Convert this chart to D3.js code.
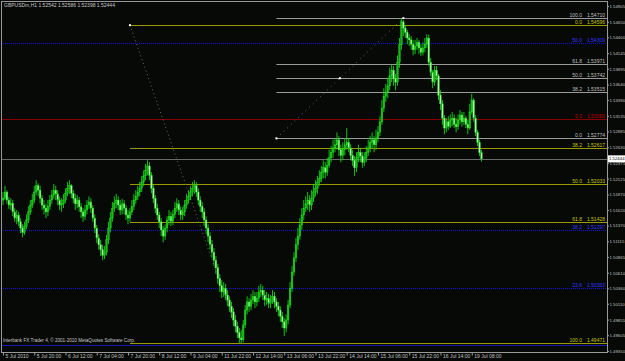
<!DOCTYPE html>
<html>
<head>
<meta charset="utf-8">
<script src="https://cdn.jsdelivr.net/npm/d3@7"></script>
<style>
  body { margin: 0; background: #000; }
  text { font-family: "Liberation Sans", Arial, sans-serif; }
</style>
</head>
<body>
<svg id="chart" width="625" height="361"></svg>
<script>
// header / footer strings
const symbolInfo = "GBPUSDm,H1  1.52542 1.52586 1.52398 1.52444";
const copyright = "Interbank FX Trader 4, \u00a9 2001-2010 MetaQuotes Software Corp.";

// time axis labels, one every 16 bars
const timeLabels = ["5 Jul 2010", "5 Jul 20:00", "6 Jul 12:00", "7 Jul 04:00", "7 Jul 20:00",
  "8 Jul 12:00", "9 Jul 04:00", "11 Jul 22:00", "12 Jul 14:00", "13 Jul 06:00", "13 Jul 22:00",
  "14 Jul 14:00", "15 Jul 06:00", "15 Jul 22:00", "16 Jul 14:00", "19 Jul 08:00"];

// price axis labels
const priceTicks = [1.49350, 1.49605, 1.49855, 1.50110, 1.50360, 1.50610, 1.50865, 1.51115,
  1.51370, 1.51620, 1.51870, 1.52125, 1.52375, 1.52630, 1.52885, 1.53135, 1.53390, 1.53640,
  1.53895, 1.54145, 1.54400, 1.54650, 1.54905];

// H1 bars, open = previous close
const firstOpen = 1.5178;
const closes = [
  1.5181,1.5191,1.5178,1.5170,1.5173,1.5159,1.5149,1.5154,1.5143,1.5133,1.5126,1.5136,1.5146,1.5159,1.5170,1.5178,
  1.5191,1.5201,1.5194,1.5181,1.5170,1.5165,1.5159,1.5168,1.5178,1.5186,1.5194,1.5188,1.5178,1.5170,1.5172,1.5178,
  1.5189,1.5197,1.5201,1.5189,1.5181,1.5172,1.5178,1.5167,1.5159,1.5152,1.5162,1.5170,1.5175,1.5165,1.5149,1.5133,
  1.5117,1.5106,1.5098,1.5089,1.5094,1.5114,1.5133,1.5149,1.5165,1.5173,1.5178,1.5170,1.5162,1.5172,1.5165,1.5154,
  1.5149,1.5159,1.5168,1.5178,1.5184,1.5191,1.5197,1.5207,1.5217,1.5226,1.5233,1.5218,1.5197,1.5181,1.5165,1.5154,
  1.5143,1.5130,1.5120,1.5133,1.5146,1.5152,1.5144,1.5155,1.5165,1.5172,1.5162,1.5154,1.5159,1.5170,1.5178,1.5184,
  1.5191,1.5197,1.5201,1.5191,1.5178,1.5168,1.5159,1.5146,1.5133,1.5120,1.5107,1.5094,1.5081,1.5069,1.5052,1.5040,
  1.5030,1.5036,1.5025,1.5017,1.5007,1.4998,1.4985,1.4975,1.4965,1.4956,1.4953,1.4977,1.5001,1.5014,1.5007,1.5017,
  1.5023,1.5014,1.5020,1.5030,1.5033,1.5025,1.5017,1.5020,1.5012,1.5017,1.5023,1.5014,1.5007,1.5001,1.4991,1.4982,
  1.4972,1.4985,1.5009,1.5036,1.5062,1.5085,1.5106,1.5120,1.5138,1.5154,1.5165,1.5172,1.5178,1.5170,1.5181,1.5191,
  1.5197,1.5207,1.5213,1.5223,1.5230,1.5223,1.5234,1.5246,1.5255,1.5262,1.5267,1.5275,1.5259,1.5250,1.5259,1.5267,
  1.5271,1.5262,1.5250,1.5242,1.5230,1.5246,1.5255,1.5249,1.5239,1.5246,1.5255,1.5262,1.5271,1.5275,1.5267,1.5278,
  1.5287,1.5304,1.5326,1.5345,1.5352,1.5362,1.5378,1.5387,1.5374,1.5368,1.5400,1.5428,1.5465,1.5455,1.5448,1.5439,
  1.5436,1.5429,1.5420,1.5426,1.5432,1.5423,1.5416,1.5423,1.5429,1.5439,1.5400,1.5384,1.5368,1.5387,1.5378,1.5347,
  1.5333,1.5310,1.5294,1.5304,1.5297,1.5307,1.5310,1.5300,1.5296,1.5307,1.5315,1.5304,1.5310,1.5300,1.5294,1.5320,
  1.5339,1.5310,1.5287,1.5271,1.52542,1.52444];
const highs = [
  1.5191,1.5201,1.5194,1.5183,1.5181,1.5178,1.5165,1.5162,1.5159,1.5149,1.5139,1.5143,1.5155,1.5168,1.5178,1.5188,
  1.5201,1.5210,1.5205,1.5201,1.5186,1.5178,1.5172,1.5178,1.5186,1.5194,1.5204,1.5201,1.5194,1.5184,1.5181,1.5188,
  1.5197,1.5207,1.5210,1.5204,1.5194,1.5188,1.5186,1.5183,1.5173,1.5165,1.5170,1.5178,1.5184,1.5181,1.5170,1.5155,
  1.5138,1.5123,1.5114,1.5106,1.5104,1.5122,1.5143,1.5159,1.5175,1.5184,1.5188,1.5184,1.5178,1.5180,1.5178,1.5170,
  1.5162,1.5165,1.5178,1.5188,1.5194,1.5201,1.5207,1.5217,1.5226,1.5236,1.5242,1.5239,1.5223,1.5202,1.5186,1.5172,
  1.5159,1.5149,1.5136,1.5139,1.5152,1.5162,1.5159,1.5162,1.5175,1.5181,1.5178,1.5168,1.5167,1.5178,1.5188,1.5194,
  1.5201,1.5207,1.5210,1.5207,1.5197,1.5184,1.5175,1.5165,1.5152,1.5139,1.5126,1.5114,1.5101,1.5088,1.5075,1.5059,
  1.5049,1.5046,1.5043,1.5033,1.5023,1.5014,1.5004,1.4993,1.4982,1.4972,1.4969,1.4985,1.5009,1.5023,1.5020,1.5027,
  1.5033,1.5030,1.5030,1.5040,1.5043,1.5040,1.5033,1.5030,1.5027,1.5025,1.5033,1.5030,1.5020,1.5014,1.5007,1.4998,
  1.4988,1.4994,1.5017,1.5046,1.5072,1.5094,1.5117,1.5133,1.5149,1.5165,1.5178,1.5184,1.5191,1.5186,1.5194,1.5204,
  1.5210,1.5217,1.5226,1.5233,1.5242,1.5239,1.5246,1.5259,1.5265,1.5275,1.5278,1.5287,1.5281,1.5267,1.5271,1.5278,
  1.5294,1.5278,1.5268,1.5259,1.5249,1.5255,1.5267,1.5262,1.5255,1.5255,1.5265,1.5275,1.5281,1.5287,1.5281,1.5291,
  1.5297,1.5313,1.5339,1.5358,1.5365,1.5374,1.5391,1.5397,1.5394,1.5381,1.5411,1.5439,1.54710,1.5468,1.5460,1.5452,
  1.5445,1.5442,1.5436,1.5436,1.5439,1.5436,1.5429,1.5432,1.5439,1.5445,1.5444,1.5407,1.5387,1.5394,1.5394,1.5381,
  1.5355,1.5339,1.5315,1.5310,1.5313,1.5316,1.5320,1.5316,1.5310,1.5316,1.5323,1.5320,1.5320,1.5313,1.5307,1.5333,
  1.5349,1.5342,1.5315,1.5291,1.5275,1.52586];
const lows = [
  1.5170,1.5178,1.5172,1.5164,1.5162,1.5152,1.5143,1.5139,1.5136,1.5125,1.5118,1.5122,1.5131,1.5141,1.5154,1.5165,
  1.5173,1.5186,1.5184,1.5173,1.5162,1.5155,1.5149,1.5152,1.5162,1.5172,1.5180,1.5178,1.5170,1.5162,1.5159,1.5165,
  1.5173,1.5184,1.5188,1.5181,1.5173,1.5162,1.5165,1.5159,1.5149,1.5143,1.5146,1.5155,1.5164,1.5157,1.5143,1.5125,
  1.5109,1.5098,1.5088,1.5081,1.5083,1.5089,1.5107,1.5126,1.5143,1.5159,1.5165,1.5162,1.5154,1.5155,1.5155,1.5146,
  1.5139,1.5143,1.5154,1.5162,1.5172,1.5178,1.5184,1.5191,1.5201,1.5210,1.5218,1.5210,1.5189,1.5173,1.5157,1.5146,
  1.5133,1.5120,1.5110,1.5114,1.5126,1.5138,1.5136,1.5138,1.5149,1.5159,1.5154,1.5146,1.5146,1.5152,1.5164,1.5172,
  1.5178,1.5184,1.5188,1.5183,1.5170,1.5159,1.5149,1.5136,1.5123,1.5110,1.5098,1.5085,1.5072,1.5059,1.5043,1.5030,
  1.5020,1.5022,1.5017,1.5007,1.4998,1.4988,1.4975,1.4965,1.4956,1.4948,1.49471,1.4949,1.4972,1.4994,1.4998,1.5001,
  1.5011,1.5004,1.5007,1.5014,1.5022,1.5017,1.5007,1.5009,1.5004,1.5004,1.5011,1.5004,1.4998,1.4991,1.4982,1.4972,
  1.4959,1.4965,1.4978,1.5004,1.5030,1.5056,1.5078,1.5098,1.5114,1.5130,1.5146,1.5159,1.5162,1.5159,1.5162,1.5175,
  1.5184,1.5188,1.5201,1.5207,1.5213,1.5213,1.5217,1.5230,1.5239,1.5246,1.5255,1.5259,1.5249,1.5239,1.5242,1.5250,
  1.5259,1.5255,1.5242,1.5233,1.5217,1.5223,1.5239,1.5239,1.5230,1.5233,1.5239,1.5249,1.5255,1.5262,1.5255,1.5259,
  1.5271,1.5281,1.5299,1.5320,1.5336,1.5342,1.5355,1.5368,1.5362,1.5355,1.5362,1.5391,1.5420,1.5442,1.5439,1.5429,
  1.5426,1.5420,1.5411,1.5413,1.5420,1.5413,1.5410,1.5411,1.5416,1.5423,1.5394,1.5378,1.5358,1.5362,1.5371,1.5339,
  1.5323,1.5299,1.5284,1.5287,1.5291,1.5294,1.5297,1.5294,1.5287,1.5291,1.5300,1.5296,1.5299,1.5294,1.5284,1.5291,
  1.5316,1.5304,1.5281,1.5265,1.5249,1.52398];

// fibonacci objects: level names, prices, and the two anchor bars
const fibGrayLevels = ["100.0", "61.8", "50.0", "38.2", "0.0"];
const fibGrayPrices = [1.54710, 1.53971, 1.53742, 1.53515, 1.52774];
const fibGrayAnchors = [140, 205];
const fibYellowLevels = ["0.0", "38.2", "50.0", "61.8", "100.0"];
const fibYellowPrices = [1.54596, 1.52617, 1.52033, 1.51428, 1.49471];
const fibYellowAnchors = [65, 122];
const fibBlueLevels = ["50.0", "38.2", "23.6"];
const fibBluePrices = [1.54309, 1.51297, 1.50363];
const redLevels = ["0.0"];
const redPrices = [1.53080];
const blueLinePrice = 1.49440;
const bidPrice = 1.52444;

const width = 625, height = 361;
const plot = {left: 1, top: 1, right: 607, bottom: 352};
const barStep = 1.953;

const svg = d3.select("#chart");

let x = d3.scaleLinear()
  .domain([0, 245])
  .range([3, 3 + 245 * barStep]);
let y = d3.scaleLinear()
  .domain([priceTicks[0], priceTicks[priceTicks.length - 1]])
  .range([351, 6]);

svg.append("rect")
  .attr("width", width).attr("height", height)
  .attr("fill", "#060906");

svg.append("clipPath").attr("id", "plotclip")
  .append("rect")
  .attr("x", plot.left).attr("y", plot.top)
  .attr("width", plot.right - plot.left).attr("height", plot.bottom - plot.top);

let g = svg.append("g").attr("clip-path", "url(#plotclip)");

// horizontal level line, from x0 to the right edge
function hline(price, color, dash, x0) {
  let yy = Math.round(y(price)) + 0.5;
  g.append("line")
    .attr("x1", x0 === undefined ? plot.left : x0).attr("x2", plot.right)
    .attr("y1", yy).attr("y2", yy)
    .attr("stroke", color)
    .attr("stroke-width", 1)
    .attr("stroke-dasharray", dash);
}
function levelLabel(level, price, color) {
  let yy = Math.round(y(price)) - 1;
  g.append("text").attr("x", 582).attr("y", yy)
    .attr("text-anchor", "end").attr("fill", color)
    .style("font-size", "5px").text(level);
  g.append("text").attr("x", 605).attr("y", yy)
    .attr("text-anchor", "end").attr("fill", color)
    .style("font-size", "5px").text(price.toFixed(5));
}

// blue fibo, dotted over the whole width
fibBluePrices.forEach((p, i) => {
  hline(p, "#1414d8", "1,1");
  levelLabel(fibBlueLevels[i], p, "#3434ff");
});
hline(blueLinePrice, "#1a1ab0", null);

// red level
redPrices.forEach((p, i) => {
  hline(p, "#8a0000", null);
  levelLabel(redLevels[i], p, "#c00000");
});
// bid line
hline(bidPrice, "#6a6a6a", null);

// yellow fibo
fibYellowPrices.forEach((p, i) => {
  hline(p, "#9a9a00", null, x(fibYellowAnchors[0]));
  levelLabel(fibYellowLevels[i], p, "#c8c800");
});
g.append("line")
  .attr("x1", x(fibYellowAnchors[0])).attr("y1", y(fibYellowPrices[0]))
  .attr("x2", x(fibYellowAnchors[1])).attr("y2", y(fibYellowPrices[4]))
  .attr("stroke", "#6a6a6a").attr("stroke-dasharray", "1,3");

// gray fibo
fibGrayPrices.forEach((p, i) => {
  hline(p, "#9a9a9a", null, x(fibGrayAnchors[0]));
  levelLabel(fibGrayLevels[i], p, "#c0c0c0");
});
g.append("line")
  .attr("x1", x(fibGrayAnchors[0])).attr("y1", y(fibGrayPrices[4]))
  .attr("x2", x(fibGrayAnchors[1])).attr("y2", y(fibGrayPrices[0]))
  .attr("stroke", "#6a6a6a").attr("stroke-dasharray", "1,4");

// selection points of the gray and yellow fibo
let grayMid = [(fibGrayAnchors[0] + fibGrayAnchors[1]) / 2, (fibGrayPrices[0] + fibGrayPrices[4]) / 2];
[[fibYellowAnchors[0], fibYellowPrices[0]], [fibGrayAnchors[0], fibGrayPrices[4]],
 [fibGrayAnchors[1], fibGrayPrices[0]], grayMid].forEach(d => {
  g.append("rect")
    .attr("x", x(d[0]) - 1).attr("y", y(d[1]) - 1)
    .attr("width", 2).attr("height", 2).attr("fill", "#ffffff");
});

// candles
let bars = closes.map((c, i) => ({
  i: i,
  open: i === 0 ? firstOpen : closes[i - 1],
  close: c, high: highs[i], low: lows[i]
}));

g.selectAll(".wick")
  .data(bars)
  .enter()
  .append("line")
  .attr("class", "wick")
  .attr("x1", d => x(d.i)).attr("x2", d => x(d.i))
  .attr("y1", d => y(d.high)).attr("y2", d => y(d.low))
  .attr("stroke", "#14d414")
  .attr("stroke-width", 0.9);

g.selectAll(".body")
  .data(bars)
  .enter()
  .append("rect")
  .attr("class", "body")
  .attr("x", d => x(d.i) - 0.8)
  .attr("width", 1.6)
  .attr("y", d => y(Math.max(d.open, d.close)))
  .attr("height", d => Math.max(0.6, Math.abs(y(d.open) - y(d.close))))
  .attr("fill", d => d.close >= d.open ? "#18b818" : "#b0f4a8")
  .attr("stroke", "#22e622")
  .attr("stroke-width", 0.4);

// header and footer text
svg.append("text").attr("x", 4).attr("y", 7)
  .attr("fill", "#c8c8c8").style("font-size", "5px")
  .text(symbolInfo);
svg.append("text").attr("x", 3).attr("y", 342)
  .attr("fill", "#c8c8c8").style("font-size", "4.6px")
  .text(copyright);

// frame
svg.append("rect")
  .attr("x", plot.left + 0.5).attr("y", plot.top + 0.5)
  .attr("width", plot.right - plot.left).attr("height", plot.bottom - plot.top)
  .attr("fill", "none").attr("stroke", "#9a9a9a");

// price axis
let yAxis = d3.axisRight(y)
  .tickValues(priceTicks)
  .tickFormat(d3.format(".5f"))
  .tickSize(1.5)
  .tickPadding(0.5);
let ya = svg.append("g")
  .attr("transform", "translate(" + (plot.right + 0.5) + ",0)")
  .call(yAxis);
ya.select(".domain").remove();
ya.selectAll("line").attr("stroke", "#9a9a9a");
ya.selectAll("text").attr("fill", "#c0c0c0").style("font-size", "4.3px")
  .style("font-family", "Liberation Sans");

// current price marker
let bidY = y(bidPrice);
svg.append("rect")
  .attr("x", plot.right + 1).attr("y", bidY - 3.5)
  .attr("width", 18).attr("height", 7).attr("fill", "#ffffff");
svg.append("text")
  .attr("x", plot.right + 2).attr("y", bidY + 1.6)
  .attr("fill", "#000").style("font-size", "4.3px")
  .text(bidPrice.toFixed(5));

// time axis
let xAxis = d3.axisBottom(x)
  .tickValues(timeLabels.map((t, i) => i * 16))
  .tickFormat((d, i) => timeLabels[i])
  .tickSize(3)
  .tickPadding(0);
let xa = svg.append("g")
  .attr("transform", "translate(0," + (plot.bottom + 0.5) + ")")
  .call(xAxis);
xa.select(".domain").remove();
xa.selectAll("line").attr("stroke", "#9a9a9a");
xa.selectAll("text")
  .attr("text-anchor", "start").attr("dx", 2).attr("y", 2).attr("dy", "0.71em")
  .attr("fill", "#c0c0c0").style("font-size", "5px")
  .style("font-family", "Liberation Sans");
</script>
</body>
</html>
